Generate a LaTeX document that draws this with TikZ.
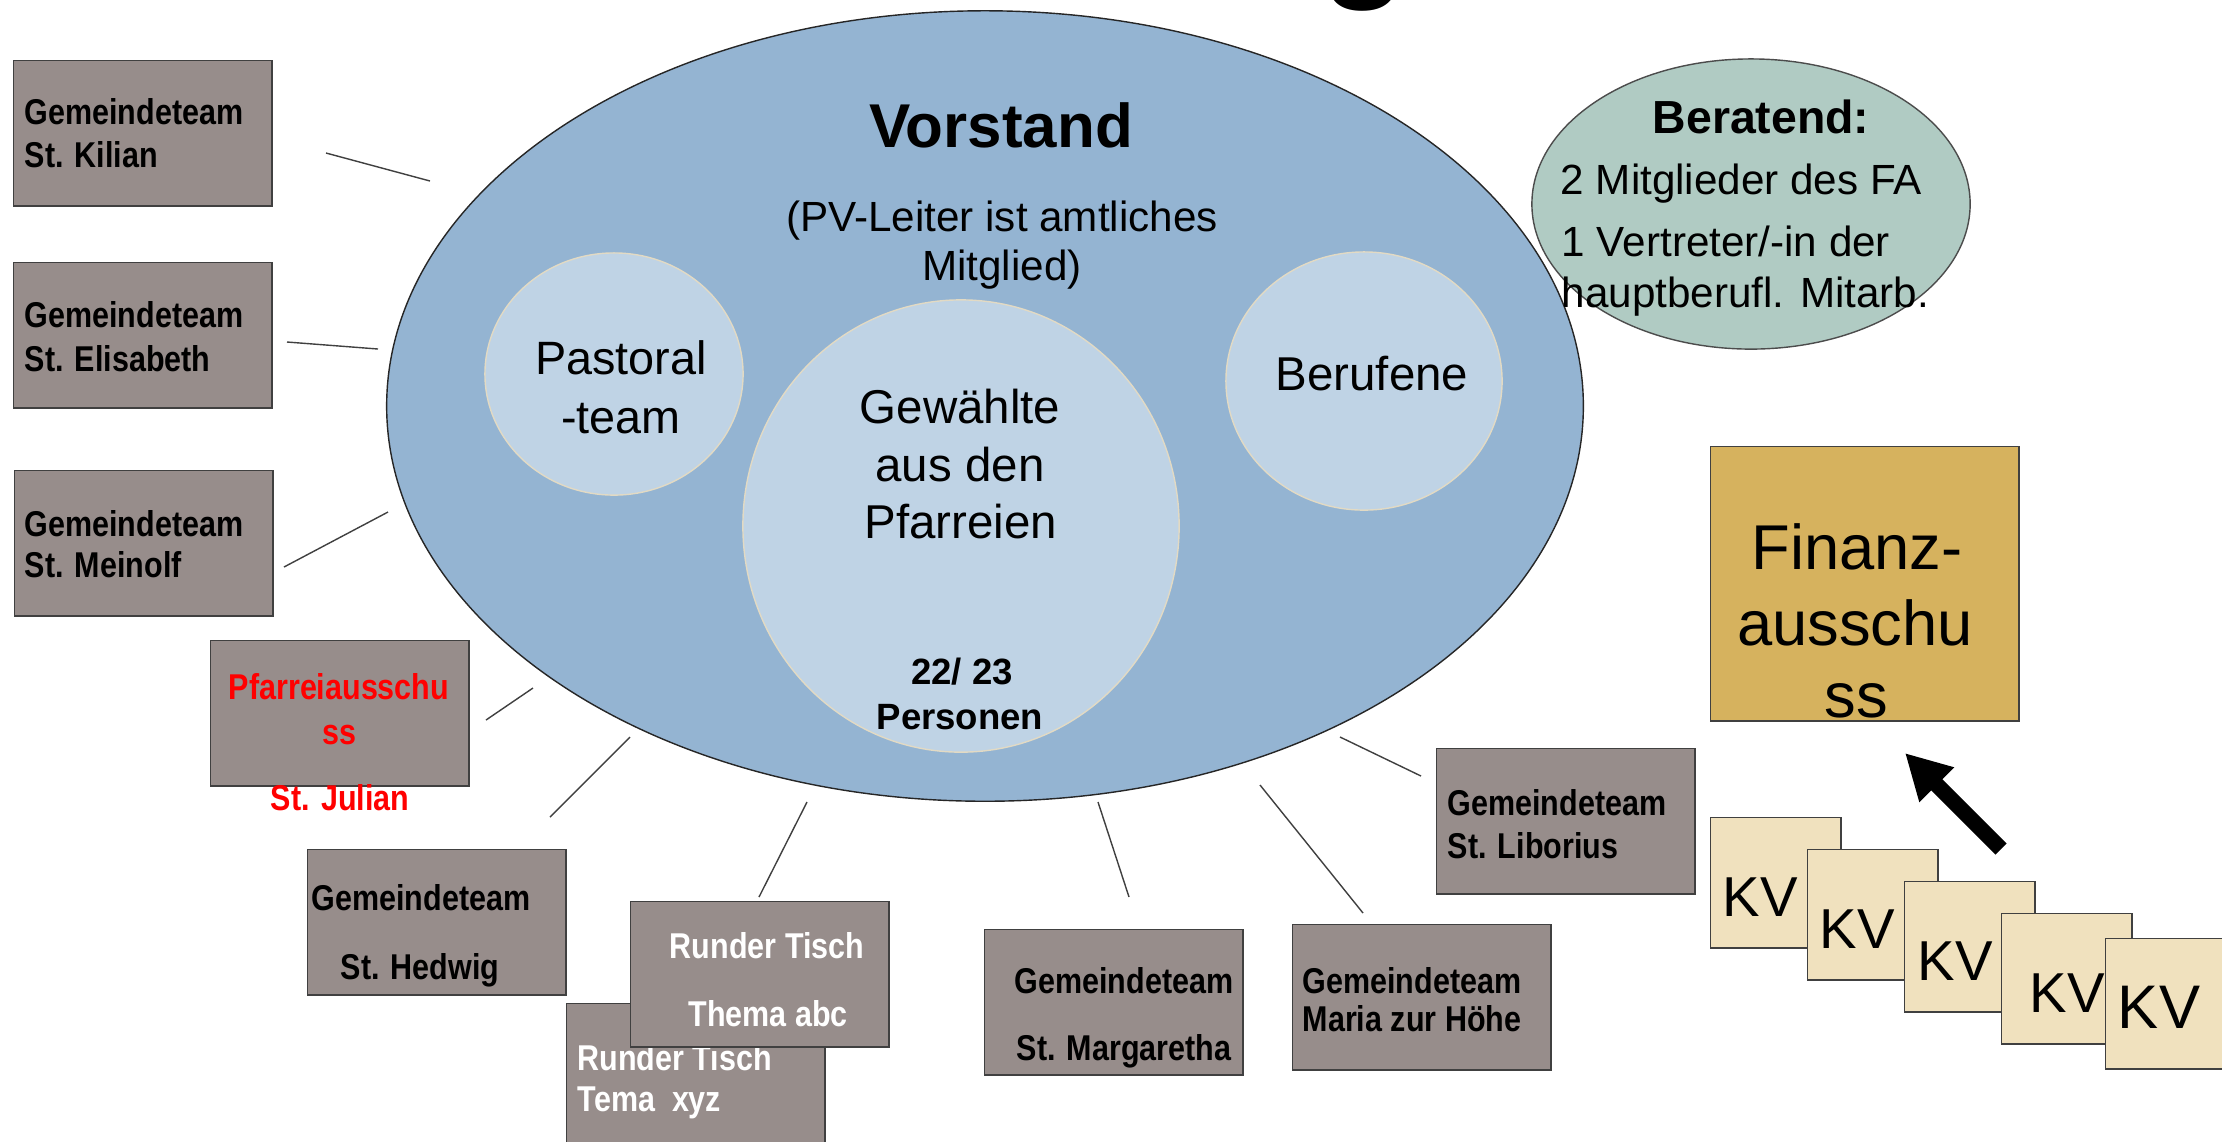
\documentclass[tikz,border=0pt]{standalone}
\usepackage{fontspec}
\setmainfont{Liberation Sans}
\newfontfamily\narrowfont[FakeStretch=0.85]{Liberation Sans}
\usetikzlibrary{shapes}
\usetikzlibrary{arrows.meta}

\definecolor{vorstandblue}{RGB}{148,180,210}
\definecolor{innerblue}{RGB}{191,211,229}
\definecolor{innerrim}{RGB}{226,218,196}
\definecolor{beratgreen}{RGB}{176,203,195}
\definecolor{finanzgold}{RGB}{214,178,94}
\definecolor{kvbeige}{RGB}{240,225,190}
\definecolor{teamgray}{RGB}{151,141,139}

\begin{document}
\begin{tikzpicture}[x=0.01cm,y=-0.01cm]
\tikzstyle{line}=[draw, black!75, line width=0.4pt] % here

% Define the team style for the grey boxes
\tikzstyle{team}=[rectangle, anchor=north west, minimum width=2.58cm, minimum height=1.45cm, inner sep=0pt, draw=black!75, fill=teamgray]
\tikzstyle{teamtext}=[anchor=base west, inner sep=0pt, font=\narrowfont\bfseries\fontsize{10.2}{12}\selectfont]

% Define the circle style for the groups in the Vorstand
\tikzstyle{inner}=[ellipse, inner sep=0pt, draw=innerrim, fill=innerblue]
\tikzstyle{txt}=[anchor=base, inner sep=0pt]

% Define the kv style for the small squares
\tikzstyle{kv}=[rectangle, anchor=north west, minimum width=1.3cm, minimum height=1.3cm, inner sep=0pt, draw=black!75, fill=kvbeige]
\tikzstyle{kvtext}=[anchor=base, inner sep=0pt, font=\fontsize{16}{19}\selectfont]

\useasboundingbox (0,0) rectangle (2222,1141);

% the cut title above
\node (title) [txt, font=\bfseries\fontsize{40}{40}\selectfont] at (1364,-19) {g};

% define the ellipses
\node (vorstand) [ellipse, inner sep=0pt, minimum width=11.96cm, minimum height=7.9cm, draw=black!85, fill=vorstandblue] at (985,406) {};
\node (pastoral) [inner, minimum width=2.58cm, minimum height=2.42cm] at (614,374) {};
\node (gewaehlte) [inner, minimum width=4.36cm, minimum height=4.52cm] at (961,526) {};
\node (berufene) [inner, minimum width=2.76cm, minimum height=2.58cm] at (1364,381) {};
\node (beratend) [ellipse, inner sep=0pt, minimum width=4.38cm, minimum height=2.9cm, draw=black!70, fill=beratgreen] at (1751,204) {};

% texts in the ellipses
\node (vorstandtitle) [txt, font=\bfseries\fontsize{17.6}{21}\selectfont] at (1001,147) {Vorstand};
\node (leiter1) [txt, font=\fontsize{12}{14}\selectfont] at (1002,231) {(PV-Leiter ist amtliches};
\node (leiter2) [txt, font=\fontsize{12}{14}\selectfont] at (1002,280) {Mitglied)};
\node (pastoraltext1) [txt, font=\fontsize{13.3}{16}\selectfont] at (621,374) {Pastoral};
\node (pastoraltext2) [txt, font=\fontsize{13.3}{16}\selectfont] at (621,433) {-team};
\node (gewaehltetext1) [txt, font=\fontsize{13.5}{16}\selectfont] at (960,423) {Gewählte};
\node (gewaehltetext2) [txt, font=\fontsize{13.5}{16}\selectfont] at (960,481) {aus den};
\node (gewaehltetext3) [txt, font=\fontsize{13.5}{16}\selectfont] at (961,538) {Pfarreien};
\node (anzahl1) [txt, font=\bfseries\fontsize{10.4}{12}\selectfont] at (962,684) {22/ 23};
\node (anzahl2) [txt, font=\bfseries\fontsize{10.4}{12}\selectfont] at (960,729) {Personen};
\node (berufenetext) [txt, font=\fontsize{13.5}{16}\selectfont] at (1372,390) {Berufene};
\node (beratendtitle) [txt, font=\bfseries\fontsize{13.2}{16}\selectfont] at (1761,133) {Beratend:};
\node (beratend1) [txt, anchor=base west, font=\fontsize{12}{14}\selectfont] at (1560,194) {2 Mitglieder des FA};
\node (beratend2) [txt, anchor=base west, font=\fontsize{12}{14}\selectfont] at (1561,256) {1 Vertreter/-in der};
\node (beratend3) [txt, anchor=base west, font=\fontsize{12}{14}\selectfont] at (1561,307) {hauptberufl. Mitarb.};

% define the team boxes
\node (kilian) [team] at (13,60) {};
\node (kiliantext1) [teamtext] at (24,124) {Gemeindeteam};
\node (kiliantext2) [teamtext] at (24,167) {St. Kilian};

\node (elisabeth) [team] at (13,262) {};
\node (elisabethtext1) [teamtext] at (24,327) {Gemeindeteam};
\node (elisabethtext2) [teamtext] at (24,371) {St. Elisabeth};

\node (meinolf) [team] at (14,470) {};
\node (meinolftext1) [teamtext] at (24,536) {Gemeindeteam};
\node (meinolftext2) [teamtext] at (24,577) {St. Meinolf};

\node (julian) [team] at (210,640) {};
\node (juliantext1) [teamtext, anchor=base, red] at (339,699) {Pfarreiausschu};
\node (juliantext2) [teamtext, anchor=base, red] at (339,744) {ss};
\node (juliantext3) [teamtext, anchor=base, red] at (340,810) {St. Julian};

\node (hedwig) [team] at (307,849) {};
\node (hedwigtext1) [teamtext] at (311,910) {Gemeindeteam};
\node (hedwigtext2) [teamtext] at (340,979) {St. Hedwig};

\node (tischxyz) [team] at (566,1003) {};
\node (tischxyztext1) [teamtext, white] at (577,1070) {Runder Tisch};
\node (tischxyztext2) [teamtext, white] at (577,1111) {Tema\ \ xyz};

\node (tischabc) [team] at (630,901) {};
\node (tischabctext1) [teamtext, anchor=base, white] at (767,958) {Runder Tisch};
\node (tischabctext2) [teamtext, anchor=base, white] at (768,1026) {Thema abc};

\node (margaretha) [team] at (984,929) {};
\node (margarethatext1) [teamtext] at (1014,993) {Gemeindeteam};
\node (margarethatext2) [teamtext] at (1016,1060) {St. Margaretha};

\node (maria) [team] at (1292,924) {};
\node (mariatext1) [teamtext] at (1302,993) {Gemeindeteam};
\node (mariatext2) [teamtext] at (1302,1031) {Maria zur Höhe};

\node (liborius) [team] at (1436,748) {};
\node (liboriustext1) [teamtext] at (1447,815) {Gemeindeteam};
\node (liboriustext2) [teamtext] at (1447,858) {St. Liborius};

% Finanzausschuss
\node (finanz) [rectangle, anchor=north west, minimum width=3.08cm, minimum height=2.74cm, inner sep=0pt, draw=black!75, fill=finanzgold] at (1710,446) {};
\node (finanztext1) [txt, font=\fontsize{18}{21}\selectfont] at (1857,569) {Finanz-};
\node (finanztext2) [txt, font=\fontsize{18}{21}\selectfont] at (1855,645) {ausschu};
\node (finanztext3) [txt, font=\fontsize{18}{21}\selectfont] at (1856,717) {ss};

% the KV squares
\node (kv1) [kv] at (1710,817) {};
\node (kv1text) [kvtext] at (1760,916) {KV};
\node (kv2) [kv] at (1807,849) {};
\node (kv2text) [kvtext] at (1857,948) {KV};
\node (kv3) [kv] at (1904,881) {};
\node (kv3text) [kvtext] at (1955,980) {KV};
\node (kv4) [kv] at (2001,913) {};
\node (kv4text) [kvtext] at (2067,1012) {KV};
\node (kv5) [kv] at (2105,938) {};
\node (kv5text) [kvtext, font=\fontsize{17.5}{20}\selectfont] at (2159,1028) {KV};

% define the lines between the teams and the Vorstand
\coordinate (kilianA) at (326,153);
\coordinate (kilianB) at (430,181);
\coordinate (elisabethA) at (287,342);
\coordinate (elisabethB) at (378,349);
\coordinate (meinolfA) at (284,567);
\coordinate (meinolfB) at (388,512);
\coordinate (julianA) at (486,720);
\coordinate (julianB) at (533,688);
\coordinate (hedwigA) at (550,817);
\coordinate (hedwigB) at (630,737);
\coordinate (tischA) at (759,897);
\coordinate (tischB) at (807,802);
\coordinate (margarethaA) at (1129,897);
\coordinate (margarethaB) at (1098,802);
\coordinate (mariaA) at (1363,913);
\coordinate (mariaB) at (1260,785);
\coordinate (liboriusA) at (1421,776);
\coordinate (liboriusB) at (1340,737);

\path[line] (kilianA) -- (kilianB);
\path[line] (elisabethA) -- (elisabethB);
\path[line] (meinolfA) -- (meinolfB);
\path[line] (julianA) -- (julianB);
\path[line] (hedwigA) -- (hedwigB);
\path[line] (tischA) -- (tischB);
\path[line] (margarethaA) -- (margarethaB);
\path[line] (mariaA) -- (mariaB);
\path[line] (liboriusA) -- (liboriusB);

% the arrow from the KV to the Finanzausschuss
\coordinate (arrowstart) at (2001,849);
\coordinate (arrowend) at (1905,753);
\draw[line width=4.5pt, -{Triangle[length=4.5mm, width=4.6mm]}] (arrowstart) -- (arrowend);

\end{tikzpicture}
\end{document}
